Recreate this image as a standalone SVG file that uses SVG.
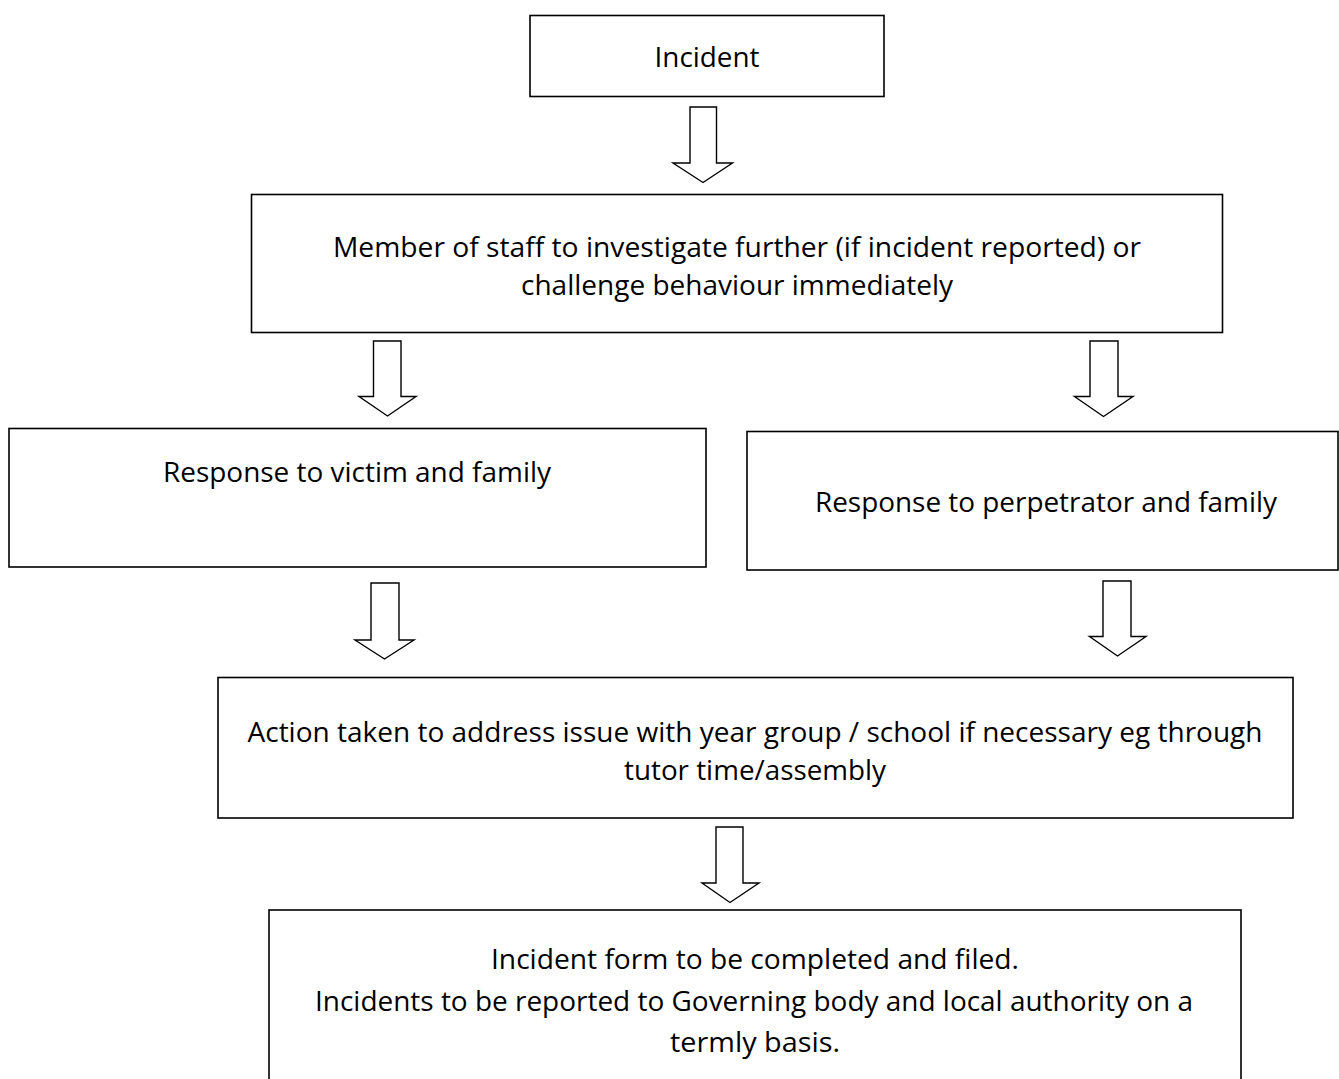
<svg xmlns="http://www.w3.org/2000/svg" width="1339" height="1079" viewBox="0 0 1339 1079">
<style>
.box{fill:#fff;stroke:#000;stroke-width:1.6}
.arr{fill:#fff;stroke:#000;stroke-width:1.4;stroke-linejoin:miter}
text{font-family:"Open Sans","Liberation Sans",sans-serif;font-size:28px;fill:#000;text-anchor:middle}
</style>
<rect width="1339" height="1079" fill="#fff"/>
<g id="connectors">
<polygon class="arr" points="690,107 716.5,107 716.5,163 732.5,163 703,182.5 673,163 690,163"/>
<polygon class="arr" points="373.5,341 401,341 401,396.5 416,396.5 387.5,416 359,396.5 373.5,396.5"/>
<polygon class="arr" points="1090,341 1118,341 1118,396.5 1133,396.5 1103.5,416.5 1074.5,396.5 1090,396.5"/>
<polygon class="arr" points="371,583 399,583 399,640 414,640 384.5,659 355,640 371,640"/>
<polygon class="arr" points="1103,581 1131,581 1131,636.5 1146,636.5 1117.5,656 1089.5,636.5 1103,636.5"/>
<polygon class="arr" points="716,827 743,827 743,883 759,883 730,902.5 702,883 716,883"/>
</g>
<g id="n1">
<rect class="box" x="530" y="15.5" width="354" height="81"/>
<text x="707" y="67" textLength="105" lengthAdjust="spacingAndGlyphs">Incident</text>
</g>
<g id="n2">
<rect class="box" x="251.5" y="194.5" width="971" height="138"/>
<text x="737" y="256.5" textLength="808" lengthAdjust="spacingAndGlyphs">Member of staff to investigate further (if incident reported) or</text>
<text x="737" y="294.5" textLength="432" lengthAdjust="spacingAndGlyphs">challenge behaviour immediately</text>
</g>
<g id="n3">
<rect class="box" x="9" y="428.5" width="697" height="138.5"/>
<text x="357" y="481.5" textLength="388" lengthAdjust="spacingAndGlyphs">Response to victim and family</text>
</g>
<g id="n4">
<rect class="box" x="747" y="431.5" width="591" height="138.5"/>
<text x="1046" y="511.5" textLength="462" lengthAdjust="spacingAndGlyphs">Response to perpetrator and family</text>
</g>
<g id="n5">
<rect class="box" x="218" y="677.5" width="1075" height="140.5"/>
<text x="755" y="741.5" textLength="1015" lengthAdjust="spacingAndGlyphs">Action taken to address issue with year group / school if necessary eg through</text>
<text x="755" y="779.5" textLength="262" lengthAdjust="spacingAndGlyphs">tutor time/assembly</text>
</g>
<g id="n6">
<rect class="box" x="269" y="910" width="972" height="190"/>
<text x="755" y="968.5" textLength="528" lengthAdjust="spacingAndGlyphs">Incident form to be completed and filed.</text>
<text x="754" y="1010.5" textLength="878" lengthAdjust="spacingAndGlyphs">Incidents to be reported to Governing body and local authority on a</text>
<text x="755" y="1051.5" textLength="170" lengthAdjust="spacingAndGlyphs">termly basis.</text>
</g>
</svg>
